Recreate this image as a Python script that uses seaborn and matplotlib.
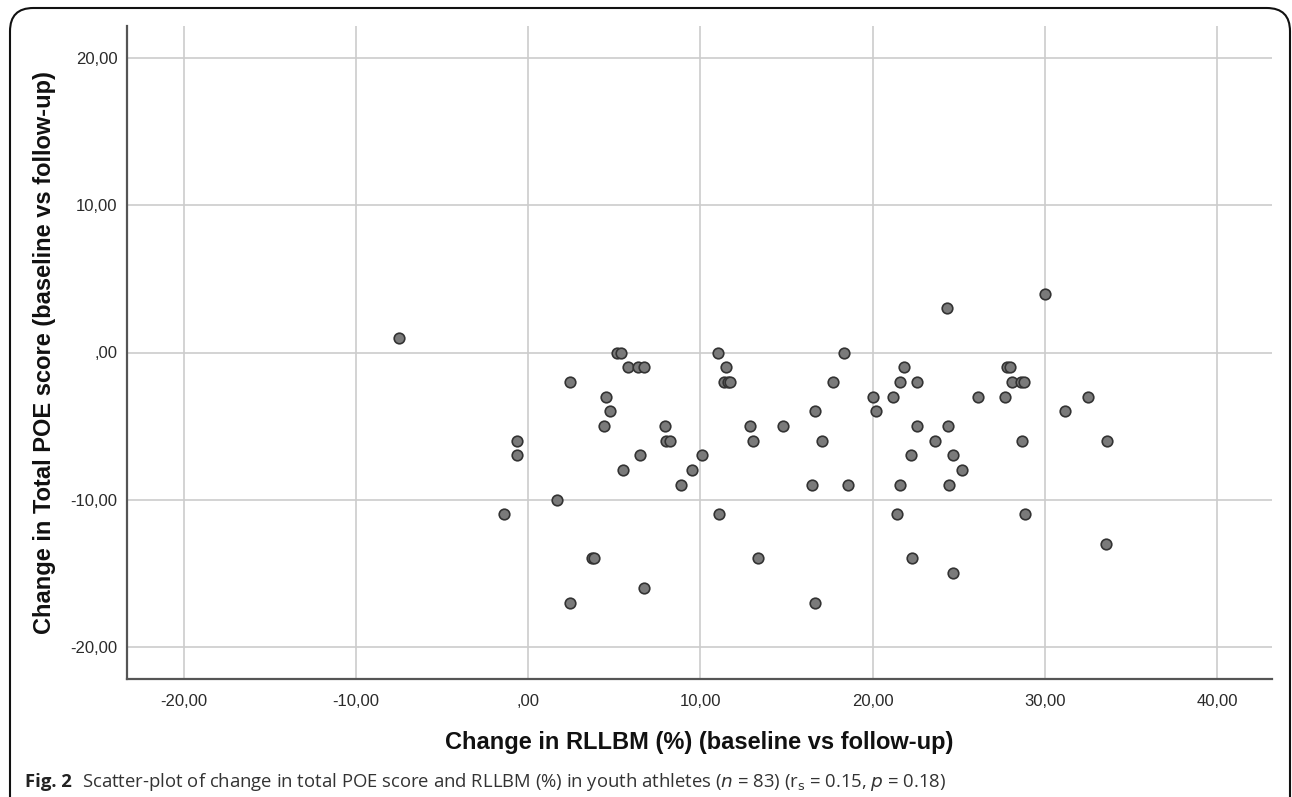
import matplotlib
matplotlib.use("Agg")
import matplotlib.pyplot as plt
from matplotlib.patches import FancyBboxPatch
from matplotlib.ticker import FuncFormatter, FixedLocator
import seaborn as sns
import pandas as pd

# Data
rllbm_change = [
    -7.5, -1.4, -0.65, -0.65, 1.7, 2.4, 2.4, 3.7, 3.85, 4.4,
    4.5, 4.75, 5.15, 5.4, 5.5, 5.8, 6.4, 6.5, 6.75, 6.75,
    7.95, 8.0, 8.25, 8.9, 9.5, 10.1, 11.0, 11.1, 11.5, 11.35,
    11.6, 11.7, 12.9, 13.05, 13.35, 14.8, 16.5, 16.65, 16.65, 17.05,
    17.7, 18.35, 18.6, 20.0, 20.2, 21.2, 21.4, 21.6, 21.6, 21.85,
    22.25, 22.3, 22.6, 22.6, 23.65, 24.3, 24.4, 24.45, 24.65, 24.7,
    25.2, 26.1, 27.7, 27.8, 28.0, 28.1, 28.6, 28.8, 28.7, 28.85,
    30.0, 31.2, 32.5, 33.6, 33.55,
]
poe_change = [
    1, -11, -6, -7, -10, -2, -17, -14, -14, -5,
    -3, -4, 0, 0, -8, -1, -1, -7, -1, -16,
    -5, -6, -6, -9, -8, -7, 0, -11, -1, -2,
    -2, -2, -5, -6, -14, -5, -9, -4, -17, -6,
    -2, 0, -9, -3, -4, -3, -11, -2, -9, -1,
    -7, -14, -2, -5, -6, 3, -5, -9, -7, -15,
    -8, -3, -3, -1, -1, -2, -2, -2, -6, -11,
    4, -4, -3, -6, -13,
]
x_ticks = [-20, -10, 0, 10, 20, 30, 40]
y_ticks = [-20, -10, 0, 10, 20]
x_label = "Change in RLLBM (%) (baseline vs follow-up)"
y_label = "Change in Total POE score (baseline vs follow-up)"

df = pd.DataFrame({"rllbm": rllbm_change, "poe": poe_change})

sns.set_style("white")
plt.rcParams["font.family"] = ["Liberation Sans", "DejaVu Sans"]

fig = plt.figure(figsize=(12.92, 7.97), dpi=100)
ax = fig.add_axes([127 / 1292, 1 - 679 / 797, (1272 - 127) / 1292, (679 - 26) / 797])

sns.scatterplot(data=df, x="rllbm", y="poe", ax=ax, s=58,
                color="#7a7a7a", edgecolor="#333333", linewidth=1.2, zorder=3)

ax.set_xlim(-23.3, 43.2)
ax.set_ylim(-22.2, 22.2)

def spss_fmt(v, pos=None):
    s = f"{v:.2f}".replace(".", ",")
    if s.startswith("0,"):
        s = s[1:]
    return s

ax.xaxis.set_major_locator(FixedLocator(x_ticks))
ax.yaxis.set_major_locator(FixedLocator(y_ticks))
ax.xaxis.set_major_formatter(FuncFormatter(spss_fmt))
ax.yaxis.set_major_formatter(FuncFormatter(spss_fmt))

ax.grid(True, color="#cccccc", linewidth=1.2, zorder=0)
ax.set_axisbelow(True)
for side in ["top", "right"]:
    ax.spines[side].set_visible(False)
for side in ["left", "bottom"]:
    ax.spines[side].set_color("#555555")
    ax.spines[side].set_linewidth(1.6)

ax.tick_params(axis="both", length=0, labelsize=12, labelcolor="#2a2a2a")
ax.tick_params(axis="x", pad=11)
ax.tick_params(axis="y", pad=7)

ax.set_xlabel(x_label, fontsize=17, fontweight="bold", labelpad=16, color="#111111")
ax.set_ylabel(y_label, fontsize=17, fontweight="bold", labelpad=10, color="#111111")

# Caption
cap_y = 1 - 782 / 797
fig.text(25 / 1292, cap_y, "Fig. 2", fontsize=13.3, fontweight="bold",
         family=["Open Sans", "DejaVu Sans"], va="center", ha="left", color="#222222")
fig.text(82 / 1292, cap_y,
         "Scatter-plot of change in total POE score and RLLBM (%) in youth athletes "
         "($\\it{n}$ = 83) (r$_\\mathrm{s}$ = 0.15, $\\it{p}$ = 0.18)",
         fontsize=13.3, family=["Open Sans", "DejaVu Sans"], va="center", ha="left",
         color="#333333")

# Frame around the figure
frame = FancyBboxPatch((10 / 1292, -0.2), (1290 - 10) / 1292, 1.2 - 8 / 797,
                       boxstyle="round,pad=0,rounding_size=0.018",
                       transform=fig.transFigure, fill=False, edgecolor="#111111",
                       linewidth=1.5, mutation_aspect=1292 / 797)
fig.patches.append(frame)

fig.savefig("out.png", dpi=100)
